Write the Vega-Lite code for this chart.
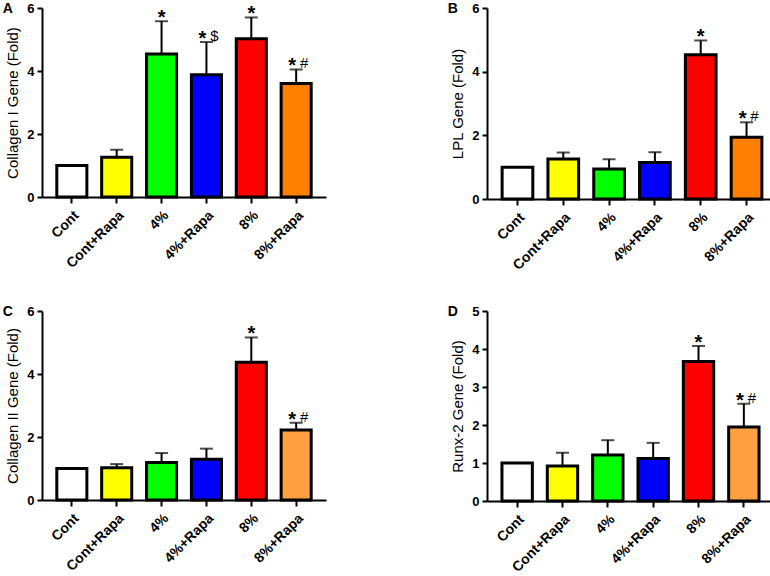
{
  "$schema": "https://vega.github.io/schema/vega-lite/v6.json",
  "padding": {"left": 2, "top": 2, "right": 0, "bottom": 0},
  "background": "white",
  "datasets": {
    "genes": [
      {"panel": "A", "group": "Cont", "mean": 1.0, "err": null, "star": "", "sym": ""},
      {"panel": "A", "group": "Cont+Rapa", "mean": 1.26, "err": 1.50, "star": "", "sym": ""},
      {"panel": "A", "group": "4%", "mean": 4.54, "err": 5.58, "star": "*", "sym": ""},
      {"panel": "A", "group": "4%+Rapa", "mean": 3.88, "err": 4.92, "star": "*", "sym": "$"},
      {"panel": "A", "group": "8%", "mean": 5.02, "err": 5.70, "star": "*", "sym": ""},
      {"panel": "A", "group": "8%+Rapa", "mean": 3.60, "err": 4.05, "star": "*", "sym": "#"},
      {"panel": "B", "group": "Cont", "mean": 1.0, "err": null, "star": "", "sym": ""},
      {"panel": "B", "group": "Cont+Rapa", "mean": 1.26, "err": 1.46, "star": "", "sym": ""},
      {"panel": "B", "group": "4%", "mean": 0.94, "err": 1.25, "star": "", "sym": ""},
      {"panel": "B", "group": "4%+Rapa", "mean": 1.15, "err": 1.47, "star": "", "sym": ""},
      {"panel": "B", "group": "8%", "mean": 4.53, "err": 4.98, "star": "*", "sym": ""},
      {"panel": "B", "group": "8%+Rapa", "mean": 1.94, "err": 2.41, "star": "*", "sym": "#"},
      {"panel": "C", "group": "Cont", "mean": 1.0, "err": null, "star": "", "sym": ""},
      {"panel": "C", "group": "Cont+Rapa", "mean": 1.02, "err": 1.14, "star": "", "sym": ""},
      {"panel": "C", "group": "4%", "mean": 1.19, "err": 1.49, "star": "", "sym": ""},
      {"panel": "C", "group": "4%+Rapa", "mean": 1.29, "err": 1.63, "star": "", "sym": ""},
      {"panel": "C", "group": "8%", "mean": 4.37, "err": 5.16, "star": "*", "sym": ""},
      {"panel": "C", "group": "8%+Rapa", "mean": 2.22, "err": 2.45, "star": "*", "sym": "#"},
      {"panel": "D", "group": "Cont", "mean": 1.0, "err": null, "star": "", "sym": ""},
      {"panel": "D", "group": "Cont+Rapa", "mean": 0.92, "err": 1.27, "star": "", "sym": ""},
      {"panel": "D", "group": "4%", "mean": 1.21, "err": 1.60, "star": "", "sym": ""},
      {"panel": "D", "group": "4%+Rapa", "mean": 1.12, "err": 1.53, "star": "", "sym": ""},
      {"panel": "D", "group": "8%", "mean": 3.67, "err": 4.08, "star": "*", "sym": ""},
      {"panel": "D", "group": "8%+Rapa", "mean": 1.95, "err": 2.56, "star": "*", "sym": "#"}
    ]
  },
  "data": {"name": "genes"},
  "config": {
    "view": {"stroke": null},
    "font": "Liberation Sans",
    "axis": {
      "grid": false,
      "domainColor": "black",
      "domainWidth": 2,
      "tickColor": "black",
      "tickWidth": 2,
      "labelColor": "black",
      "labelFont": "Liberation Sans",
      "labelFontWeight": "bold",
      "titleFont": "Liberation Sans",
      "titleFontWeight": "normal",
      "titleColor": "black"
    },
    "axisLeft": {"labelFontSize": 13, "tickSize": 5, "titleFontSize": 15, "titlePadding": 6, "labelPadding": 3, "labelOverlap": false},
    "axisBottom": {"labelFontSize": 14, "tickSize": 6, "labelPadding": 5},
    "title": {"anchor": "start", "frame": "bounds", "fontSize": 14, "fontWeight": "bold", "font": "Liberation Sans", "color": "black", "offset": 0, "dy": 18, "dx": -3}
  },
  "resolve": {"scale": {"color": "independent"}},
  "spacing": 32,
  "vconcat": [
    {
      "spacing": 121,
      "resolve": {"scale": {"color": "independent", "y": "independent"}},
      "hconcat": [
        {
          "width": 284, "height": 189,
          "title": {"text": "A"},
          "transform": [{"filter": "datum.panel === 'A'"}],
          "encoding": {"x": {"field": "group", "type": "nominal", "sort": ["Cont", "Cont+Rapa", "4%", "4%+Rapa", "8%", "8%+Rapa"], "scale": {"paddingInner": 0.33, "paddingOuter": 0.33}, "axis": {"title": null, "labelAngle": -45, "labelFontSize": 14, "tickSize": 6, "labelPadding": 5}}},
          "layer": [
            {"mark": {"type": "bar", "stroke": "black", "strokeWidth": 3}, "encoding": {
              "y": {"field": "mean", "type": "quantitative", "scale": {"domain": [0, 6]}, "axis": {"values": [0, 2, 4, 6], "title": "Collagen I Gene (Fold)", "labelFontSize": 13, "titleFontSize": 15, "tickSize": 5, "labelOverlap": false}},
              "color": {"field": "group", "type": "nominal", "scale": {"domain": ["Cont", "Cont+Rapa", "4%", "4%+Rapa", "8%", "8%+Rapa"], "range": ["#ffffff", "#ffff00", "#00ff00", "#0000ff", "#ff0000", "#ff8000"]}, "legend": null}}},
            {"transform": [{"filter": "datum.err != null"}], "mark": {"type": "rule", "strokeWidth": 2, "color": "black"}, "encoding": {"y": {"field": "mean", "type": "quantitative", "axis": {"values": [0, 2, 4, 6], "title": "Collagen I Gene (Fold)", "labelFontSize": 13, "titleFontSize": 15, "tickSize": 5, "labelOverlap": false}}, "y2": {"field": "err"}}},
            {"transform": [{"filter": "datum.err != null"}], "mark": {"type": "tick", "orient": "horizontal", "size": 13, "thickness": 2, "color": "black"}, "encoding": {"y": {"field": "err", "type": "quantitative", "axis": {"values": [0, 2, 4, 6], "title": "Collagen I Gene (Fold)", "labelFontSize": 13, "titleFontSize": 15, "tickSize": 5, "labelOverlap": false}}}},
            {"transform": [{"filter": "datum.star !== '' && datum.sym === ''"}], "mark": {"type": "text", "fontSize": 20, "fontWeight": "bold", "color": "black", "baseline": "alphabetic", "dy": 3}, "encoding": {"y": {"field": "err", "type": "quantitative", "axis": {"values": [0, 2, 4, 6], "title": "Collagen I Gene (Fold)", "labelFontSize": 13, "titleFontSize": 15, "tickSize": 5, "labelOverlap": false}}, "text": {"field": "star"}}},
            {"transform": [{"filter": "datum.sym !== ''"}], "mark": {"type": "text", "fontSize": 20, "fontWeight": "bold", "color": "black", "baseline": "alphabetic", "dy": 3, "dx": -4}, "encoding": {"y": {"field": "err", "type": "quantitative", "axis": {"values": [0, 2, 4, 6], "title": "Collagen I Gene (Fold)", "labelFontSize": 13, "titleFontSize": 15, "tickSize": 5, "labelOverlap": false}}, "text": {"field": "star"}}},
            {"transform": [{"filter": "datum.sym !== ''"}], "mark": {"type": "text", "fontSize": 15, "color": "black", "baseline": "alphabetic", "dy": -1, "dx": 8}, "encoding": {"y": {"field": "err", "type": "quantitative", "axis": {"values": [0, 2, 4, 6], "title": "Collagen I Gene (Fold)", "labelFontSize": 13, "titleFontSize": 15, "tickSize": 5, "labelOverlap": false}}, "text": {"field": "sym"}}}
          ]
        },
        {
          "width": 290, "height": 191,
          "title": {"text": "B"},
          "transform": [{"filter": "datum.panel === 'B'"}],
          "encoding": {"x": {"field": "group", "type": "nominal", "sort": ["Cont", "Cont+Rapa", "4%", "4%+Rapa", "8%", "8%+Rapa"], "scale": {"paddingInner": 0.33, "paddingOuter": 0.33}, "axis": {"title": null, "labelAngle": -45, "labelFontSize": 14, "tickSize": 6, "labelPadding": 5}}},
          "layer": [
            {"mark": {"type": "bar", "stroke": "black", "strokeWidth": 3}, "encoding": {
              "y": {"field": "mean", "type": "quantitative", "scale": {"domain": [0, 6]}, "axis": {"values": [0, 2, 4, 6], "title": "LPL Gene (Fold)", "labelFontSize": 13, "titleFontSize": 15, "tickSize": 5, "labelOverlap": false}},
              "color": {"field": "group", "type": "nominal", "scale": {"domain": ["Cont", "Cont+Rapa", "4%", "4%+Rapa", "8%", "8%+Rapa"], "range": ["#ffffff", "#ffff00", "#00ff00", "#0000ff", "#ff0000", "#ff8000"]}, "legend": null}}},
            {"transform": [{"filter": "datum.err != null"}], "mark": {"type": "rule", "strokeWidth": 2, "color": "black"}, "encoding": {"y": {"field": "mean", "type": "quantitative", "axis": {"values": [0, 2, 4, 6], "title": "LPL Gene (Fold)", "labelFontSize": 13, "titleFontSize": 15, "tickSize": 5, "labelOverlap": false}}, "y2": {"field": "err"}}},
            {"transform": [{"filter": "datum.err != null"}], "mark": {"type": "tick", "orient": "horizontal", "size": 13, "thickness": 2, "color": "black"}, "encoding": {"y": {"field": "err", "type": "quantitative", "axis": {"values": [0, 2, 4, 6], "title": "LPL Gene (Fold)", "labelFontSize": 13, "titleFontSize": 15, "tickSize": 5, "labelOverlap": false}}}},
            {"transform": [{"filter": "datum.star !== '' && datum.sym === ''"}], "mark": {"type": "text", "fontSize": 20, "fontWeight": "bold", "color": "black", "baseline": "alphabetic", "dy": 3}, "encoding": {"y": {"field": "err", "type": "quantitative", "axis": {"values": [0, 2, 4, 6], "title": "LPL Gene (Fold)", "labelFontSize": 13, "titleFontSize": 15, "tickSize": 5, "labelOverlap": false}}, "text": {"field": "star"}}},
            {"transform": [{"filter": "datum.sym !== ''"}], "mark": {"type": "text", "fontSize": 20, "fontWeight": "bold", "color": "black", "baseline": "alphabetic", "dy": 3, "dx": -4}, "encoding": {"y": {"field": "err", "type": "quantitative", "axis": {"values": [0, 2, 4, 6], "title": "LPL Gene (Fold)", "labelFontSize": 13, "titleFontSize": 15, "tickSize": 5, "labelOverlap": false}}, "text": {"field": "star"}}},
            {"transform": [{"filter": "datum.sym !== ''"}], "mark": {"type": "text", "fontSize": 15, "color": "black", "baseline": "alphabetic", "dy": -1, "dx": 8}, "encoding": {"y": {"field": "err", "type": "quantitative", "axis": {"values": [0, 2, 4, 6], "title": "LPL Gene (Fold)", "labelFontSize": 13, "titleFontSize": 15, "tickSize": 5, "labelOverlap": false}}, "text": {"field": "sym"}}}
          ]
        }
      ]
    },
    {
      "spacing": 121,
      "resolve": {"scale": {"color": "independent", "y": "independent"}},
      "hconcat": [
        {
          "width": 284, "height": 189,
          "title": {"text": "C"},
          "transform": [{"filter": "datum.panel === 'C'"}],
          "encoding": {"x": {"field": "group", "type": "nominal", "sort": ["Cont", "Cont+Rapa", "4%", "4%+Rapa", "8%", "8%+Rapa"], "scale": {"paddingInner": 0.33, "paddingOuter": 0.33}, "axis": {"title": null, "labelAngle": -45, "labelFontSize": 14, "tickSize": 6, "labelPadding": 5}}},
          "layer": [
            {"mark": {"type": "bar", "stroke": "black", "strokeWidth": 3}, "encoding": {
              "y": {"field": "mean", "type": "quantitative", "scale": {"domain": [0, 6]}, "axis": {"values": [0, 2, 4, 6], "title": "Collagen II Gene (Fold)", "labelFontSize": 13, "titleFontSize": 15, "tickSize": 5, "labelOverlap": false}},
              "color": {"field": "group", "type": "nominal", "scale": {"domain": ["Cont", "Cont+Rapa", "4%", "4%+Rapa", "8%", "8%+Rapa"], "range": ["#ffffff", "#ffff00", "#00ff00", "#0000ff", "#ff0000", "#ffa040"]}, "legend": null}}},
            {"transform": [{"filter": "datum.err != null"}], "mark": {"type": "rule", "strokeWidth": 2, "color": "black"}, "encoding": {"y": {"field": "mean", "type": "quantitative", "axis": {"values": [0, 2, 4, 6], "title": "Collagen II Gene (Fold)", "labelFontSize": 13, "titleFontSize": 15, "tickSize": 5, "labelOverlap": false}}, "y2": {"field": "err"}}},
            {"transform": [{"filter": "datum.err != null"}], "mark": {"type": "tick", "orient": "horizontal", "size": 13, "thickness": 2, "color": "black"}, "encoding": {"y": {"field": "err", "type": "quantitative", "axis": {"values": [0, 2, 4, 6], "title": "Collagen II Gene (Fold)", "labelFontSize": 13, "titleFontSize": 15, "tickSize": 5, "labelOverlap": false}}}},
            {"transform": [{"filter": "datum.star !== '' && datum.sym === ''"}], "mark": {"type": "text", "fontSize": 20, "fontWeight": "bold", "color": "black", "baseline": "alphabetic", "dy": 3}, "encoding": {"y": {"field": "err", "type": "quantitative", "axis": {"values": [0, 2, 4, 6], "title": "Collagen II Gene (Fold)", "labelFontSize": 13, "titleFontSize": 15, "tickSize": 5, "labelOverlap": false}}, "text": {"field": "star"}}},
            {"transform": [{"filter": "datum.sym !== ''"}], "mark": {"type": "text", "fontSize": 20, "fontWeight": "bold", "color": "black", "baseline": "alphabetic", "dy": 3, "dx": -4}, "encoding": {"y": {"field": "err", "type": "quantitative", "axis": {"values": [0, 2, 4, 6], "title": "Collagen II Gene (Fold)", "labelFontSize": 13, "titleFontSize": 15, "tickSize": 5, "labelOverlap": false}}, "text": {"field": "star"}}},
            {"transform": [{"filter": "datum.sym !== ''"}], "mark": {"type": "text", "fontSize": 15, "color": "black", "baseline": "alphabetic", "dy": -1, "dx": 8}, "encoding": {"y": {"field": "err", "type": "quantitative", "axis": {"values": [0, 2, 4, 6], "title": "Collagen II Gene (Fold)", "labelFontSize": 13, "titleFontSize": 15, "tickSize": 5, "labelOverlap": false}}, "text": {"field": "sym"}}}
          ]
        },
        {
          "width": 287, "height": 190,
          "title": {"text": "D"},
          "transform": [{"filter": "datum.panel === 'D'"}],
          "encoding": {"x": {"field": "group", "type": "nominal", "sort": ["Cont", "Cont+Rapa", "4%", "4%+Rapa", "8%", "8%+Rapa"], "scale": {"paddingInner": 0.33, "paddingOuter": 0.33}, "axis": {"title": null, "labelAngle": -45, "labelFontSize": 14, "tickSize": 6, "labelPadding": 5}}},
          "layer": [
            {"mark": {"type": "bar", "stroke": "black", "strokeWidth": 3}, "encoding": {
              "y": {"field": "mean", "type": "quantitative", "scale": {"domain": [0, 5]}, "axis": {"values": [0, 1, 2, 3, 4, 5], "title": "Runx-2 Gene (Fold)", "labelFontSize": 13, "titleFontSize": 15, "tickSize": 5, "labelOverlap": false}},
              "color": {"field": "group", "type": "nominal", "scale": {"domain": ["Cont", "Cont+Rapa", "4%", "4%+Rapa", "8%", "8%+Rapa"], "range": ["#ffffff", "#ffff00", "#00ff00", "#0000ff", "#ff0000", "#ffa040"]}, "legend": null}}},
            {"transform": [{"filter": "datum.err != null"}], "mark": {"type": "rule", "strokeWidth": 2, "color": "black"}, "encoding": {"y": {"field": "mean", "type": "quantitative", "axis": {"values": [0, 1, 2, 3, 4, 5], "title": "Runx-2 Gene (Fold)", "labelFontSize": 13, "titleFontSize": 15, "tickSize": 5, "labelOverlap": false}}, "y2": {"field": "err"}}},
            {"transform": [{"filter": "datum.err != null"}], "mark": {"type": "tick", "orient": "horizontal", "size": 13, "thickness": 2, "color": "black"}, "encoding": {"y": {"field": "err", "type": "quantitative", "axis": {"values": [0, 1, 2, 3, 4, 5], "title": "Runx-2 Gene (Fold)", "labelFontSize": 13, "titleFontSize": 15, "tickSize": 5, "labelOverlap": false}}}},
            {"transform": [{"filter": "datum.star !== '' && datum.sym === ''"}], "mark": {"type": "text", "fontSize": 20, "fontWeight": "bold", "color": "black", "baseline": "alphabetic", "dy": 3}, "encoding": {"y": {"field": "err", "type": "quantitative", "axis": {"values": [0, 1, 2, 3, 4, 5], "title": "Runx-2 Gene (Fold)", "labelFontSize": 13, "titleFontSize": 15, "tickSize": 5, "labelOverlap": false}}, "text": {"field": "star"}}},
            {"transform": [{"filter": "datum.sym !== ''"}], "mark": {"type": "text", "fontSize": 20, "fontWeight": "bold", "color": "black", "baseline": "alphabetic", "dy": 3, "dx": -4}, "encoding": {"y": {"field": "err", "type": "quantitative", "axis": {"values": [0, 1, 2, 3, 4, 5], "title": "Runx-2 Gene (Fold)", "labelFontSize": 13, "titleFontSize": 15, "tickSize": 5, "labelOverlap": false}}, "text": {"field": "star"}}},
            {"transform": [{"filter": "datum.sym !== ''"}], "mark": {"type": "text", "fontSize": 15, "color": "black", "baseline": "alphabetic", "dy": -1, "dx": 8}, "encoding": {"y": {"field": "err", "type": "quantitative", "axis": {"values": [0, 1, 2, 3, 4, 5], "title": "Runx-2 Gene (Fold)", "labelFontSize": 13, "titleFontSize": 15, "tickSize": 5, "labelOverlap": false}}, "text": {"field": "sym"}}}
          ]
        }
      ]
    }
  ]
}
